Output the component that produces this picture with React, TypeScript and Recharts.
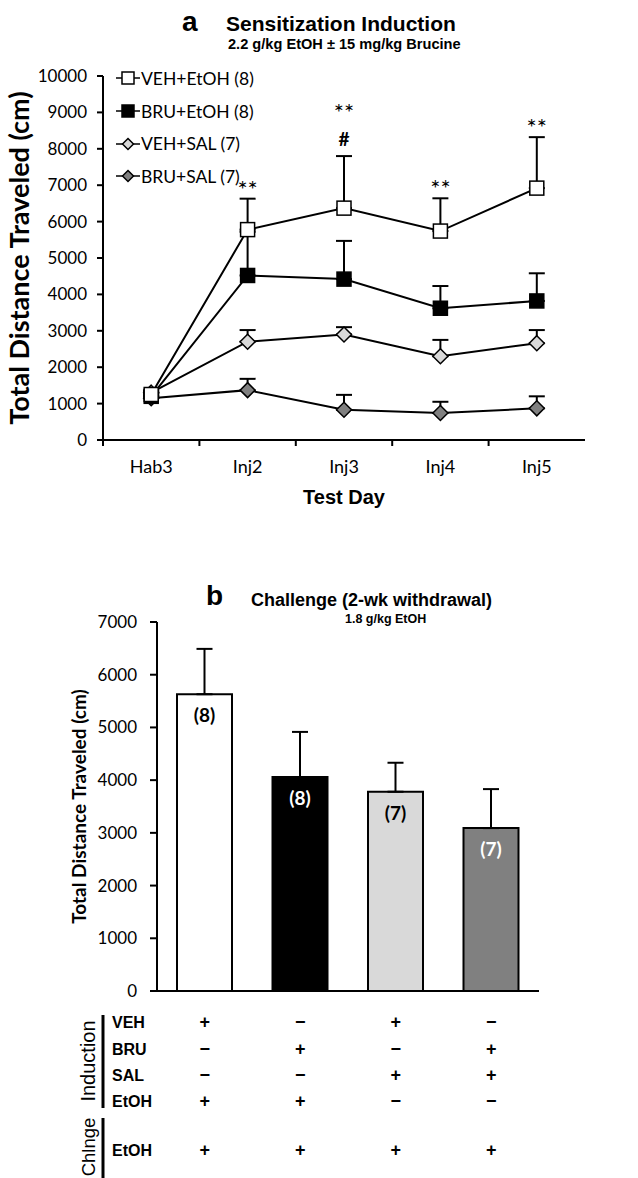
import { LineChart, Line, XAxis, YAxis, ErrorBar, ReferenceDot, Legend, BarChart, Bar, Cell, LabelList } from "recharts"

const days = ["Hab3", "Inj2", "Inj3", "Inj4", "Inj5"]
const vehEtoh = [1250, 5780, 6370, 5740, 6920]
const vehEtohErr = [80, 850, 1430, 900, 1400]
const bruEtoh = [1200, 4520, 4420, 3620, 3820]
const bruEtohErr = [80, 1200, 1050, 610, 760]
const vehSal = [1300, 2700, 2900, 2300, 2660]
const vehSalErr = [60, 320, 200, 450, 360]
const bruSal = [1150, 1370, 830, 740, 870]
const bruSalErr = [60, 310, 410, 310, 330]
const stars = ["", "**", "**", "**", "**"]
const hashes = ["", "", "#", "", ""]
const ticksA = [0, 1000, 2000, 3000, 4000, 5000, 6000, 7000, 8000, 9000, 10000]

const groups = ["VEH+EtOH", "BRU+EtOH", "VEH+SAL", "BRU+SAL"]
const challengeMean = [5630, 4060, 3780, 3090]
const challengeErr = [860, 855, 550, 740]
const challengeN = ["(8)", "(8)", "(7)", "(7)"]
const ticksB = [0, 1000, 2000, 3000, 4000, 5000, 6000, 7000]

const inductionRows = ["VEH", "BRU", "SAL", "EtOH"]
const inductionSigns = [
  ["+", "−", "+", "−"],
  ["−", "+", "−", "+"],
  ["−", "−", "+", "+"],
  ["+", "+", "−", "−"],
]
const challengeRow = ["+", "+", "+", "+"]

const ARIAL = "'Liberation Sans', Arial, sans-serif"
const CALIBRI = "Lato, 'Open Sans', sans-serif"

const sensData = days.map((day, i) => ({
  day,
  vehEtoh: vehEtoh[i],
  vehEtohErr: [0, vehEtohErr[i]],
  bruEtoh: bruEtoh[i],
  bruEtohErr: [0, bruEtohErr[i]],
  vehSal: vehSal[i],
  vehSalErr: [0, vehSalErr[i]],
  bruSal: bruSal[i],
  bruSalErr: [0, bruSalErr[i]],
}))

const challengeData = groups.map((g, i) => ({
  group: g,
  mean: challengeMean[i],
  err: [0, challengeErr[i]],
  n: challengeN[i],
}))

// series styling, legend order
const series = [
  { key: "vehEtoh", name: "VEH+EtOH (8)", shape: "square", fill: "#ffffff" },
  { key: "bruEtoh", name: "BRU+EtOH (8)", shape: "square", fill: "#000000" },
  { key: "vehSal", name: "VEH+SAL (7)", shape: "diamond", fill: "#d9d9d9" },
  { key: "bruSal", name: "BRU+SAL (7)", shape: "diamond", fill: "#808080" },
]
const barFills = ["#ffffff", "#000000", "#d9d9d9", "#808080"]
const barLabelFills = ["#000", "#fff", "#000", "#fff"]

function Marker({ shape, fill, cx, cy, size }: any) {
  const h = size / 2
  if (shape === "square") {
    return <rect x={cx - h} y={cy - h} width={size} height={size} fill={fill} stroke="#000" strokeWidth={1.5} />
  }
  return (
    <polygon
      points={`${cx},${cy - h} ${cx + h},${cy} ${cx},${cy + h} ${cx - h},${cy}`}
      fill={fill}
      stroke="#000"
      strokeWidth={1.5}
    />
  )
}

const makeDot = (shape: string, fill: string) => (props: any) => {
  const { cx, cy, index } = props
  if (cx == null || cy == null) return <g key={`d-${index}`} />
  return (
    <g key={`d-${shape}-${fill}-${index}`}>
      <Marker shape={shape} fill={fill} cx={cx} cy={cy} size={shape === "square" ? 14 : 15} />
    </g>
  )
}

// chart a layout
const A_LEFT = 103
const A_RIGHT = 585
const A_BAND = (A_RIGHT - A_LEFT) / days.length

const DayTick = (props: any) => {
  const { x, y, payload } = props
  const axisY = y - 10
  const bx = x - A_BAND / 2
  return (
    <g>
      <line x1={bx} y1={axisY} x2={bx} y2={axisY + 6} stroke="#000" strokeWidth={2} />
      <text x={x} y={axisY + 33} textAnchor="middle" fontFamily={CALIBRI} fontSize={18} fill="#000">
        {payload.value}
      </text>
    </g>
  )
}

const renderLegend = () => (
  <div style={{ fontFamily: CALIBRI, fontSize: 17.5, color: "#000" }}>
    {series.map((s) => (
      <div key={s.key} style={{ display: "flex", alignItems: "center", height: 32.7 }}>
        <svg width={24} height={16} style={{ marginRight: 1 }}>
          <line x1={0} y1={8} x2={24} y2={8} stroke="#000" strokeWidth={1.5} />
          <Marker shape={s.shape} fill={s.fill} cx={12} cy={8} size={s.shape === "square" ? 12 : 11} />
        </svg>
        <span>{s.name}</span>
      </div>
    ))}
  </div>
)

const sigLabel = (text: string, lift: number, size: number, weight: number) => (p: any) => {
  const vb = p.viewBox || {}
  const x = (vb.x ?? p.x) + (vb.width ?? 0) / 2
  const y = vb.y ?? p.y
  return (
    <text x={x} y={y - lift} textAnchor="middle" fontFamily={CALIBRI} fontSize={size} fontWeight={weight} fill="#000">
      {text}
    </text>
  )
}

const title = (text: string, style: any) => (
  <div style={{ position: "absolute", whiteSpace: "nowrap", fontFamily: ARIAL, fontWeight: 700, color: "#000", ...style }}>
    {text}
  </div>
)

const BarNLabel = (props: any) => {
  const { x, y, width, value, index } = props
  const vx = props.viewBox ? props.viewBox.x : x
  const vy = props.viewBox ? props.viewBox.y : y
  const vw = props.viewBox ? props.viewBox.width : width
  const i = typeof index === "number" ? index : challengeN.indexOf(value)
  return (
    <text x={vx + vw / 2} y={vy + 28} textAnchor="middle" fontFamily={CALIBRI} fontWeight={700} fontSize={19} fill={barLabelFills[i] || "#000"}>
      {value}
    </text>
  )
}

// chart b layout
const B_LEFT = 157
const B_RIGHT = 539
const B_BAND = (B_RIGHT - B_LEFT) / groups.length
const colX = groups.map((_, i) => B_LEFT + B_BAND * (i + 0.5))
const rowY = [1028, 1055, 1081, 1107]
const chRowY = 1156

export default function App() {
  return (
    <div style={{ position: "absolute", left: 0, top: 0, width: 638, height: 1178, background: "#fff", overflow: "hidden" }}>
      {title("a", { left: 182, top: 6, fontSize: 28 })}
      {title("Sensitization Induction", { left: 226, top: 12, fontSize: 21 })}
      {title("2.2 g/kg EtOH ± 15 mg/kg Brucine", { left: 228, top: 36, fontSize: 14.6 })}

      <div style={{ position: "absolute", left: 0, top: 0 }}>
        <LineChart width={638} height={520} data={sensData} margin={{ top: 76, right: 638 - A_RIGHT, bottom: 50, left: 0 }}>
          <XAxis
            dataKey="day"
            scale="band"
            height={30}
            tickLine={false}
            tickSize={6}
            tickMargin={4}
            axisLine={{ stroke: "#000", strokeWidth: 2 }}
            tick={<DayTick />}
            interval={0}
            label={({ viewBox }: any) => (
              <text x={viewBox.x + viewBox.width / 2} y={viewBox.y + 64} textAnchor="middle" fontFamily={ARIAL} fontWeight={700} fontSize={20} fill="#000">
                Test Day
              </text>
            )}
          />
          <YAxis
            width={A_LEFT}
            domain={[0, 10000]}
            ticks={ticksA}
            interval={0}
            tickSize={6}
            tickMargin={10}
            axisLine={{ stroke: "#000", strokeWidth: 2 }}
            tickLine={{ stroke: "#000", strokeWidth: 2 }}
            tick={{ fill: "#000", fontFamily: CALIBRI, fontSize: 17 }}
            label={({ viewBox }: any) => {
              const cx = viewBox.x + 18
              const cy = viewBox.y + viewBox.height / 2
              return (
                <text x={cx} y={cy} transform={`rotate(-90 ${cx} ${cy})`} textAnchor="middle" dominantBaseline="central" fontFamily={CALIBRI} fontWeight={700} fontSize={27} fill="#000">
                  Total Distance Traveled (cm)
                </text>
              )
            }}
          />
          <Legend layout="vertical" align="center" verticalAlign="middle" content={renderLegend} wrapperStyle={{ top: 62, left: 116, width: 180, height: 140 }} />
          {[...series].reverse().map((s) => (
            <Line
              key={s.key}
              dataKey={s.key}
              name={s.name}
              stroke="#000"
              strokeWidth={2}
              isAnimationActive={false}
              dot={makeDot(s.shape, s.fill)}
              activeDot={false}
            >
              <ErrorBar dataKey={`${s.key}Err`} width={8} stroke="#000" strokeWidth={2} direction="y" />
            </Line>
          ))}
          {days.map((d, i) =>
            stars[i] ? (
              <ReferenceDot
                key={`s-${d}`}
                x={d}
                y={vehEtoh[i] + vehEtohErr[i]}
                r={1}
                fill="none"
                stroke="none"
                label={sigLabel(stars[i], hashes[i] ? 34 : 0, 24, 400)}
              />
            ) : null
          )}
          {days.map((d, i) =>
            hashes[i] ? (
              <ReferenceDot
                key={`h-${d}`}
                x={d}
                y={vehEtoh[i] + vehEtohErr[i]}
                r={1}
                fill="none"
                stroke="none"
                label={sigLabel(hashes[i], 9, 19, 700)}
              />
            ) : null
          )}
        </LineChart>
      </div>

      {title("b", { left: 206, top: 580, fontSize: 28 })}
      {title("Challenge (2-wk withdrawal)", { left: 251, top: 590, fontSize: 18 })}
      {title("1.8 g/kg EtOH", { left: 345, top: 612, fontSize: 12.5 })}

      <div style={{ position: "absolute", left: 0, top: 560 }}>
        <BarChart width={638} height={450} data={challengeData} margin={{ top: 62, right: 638 - B_RIGHT, bottom: 14, left: 0 }} barSize={55}>
          <XAxis dataKey="group" height={5} tick={false} tickLine={false} axisLine={{ stroke: "#000", strokeWidth: 2 }} />
          <YAxis
            width={B_LEFT}
            domain={[0, 7000]}
            ticks={ticksB}
            interval={0}
            tickSize={7}
            tickMargin={13}
            axisLine={{ stroke: "#000", strokeWidth: 2 }}
            tickLine={{ stroke: "#000", strokeWidth: 2 }}
            tick={{ fill: "#000", fontFamily: CALIBRI, fontSize: 17 }}
            label={({ viewBox }: any) => {
              const cx = viewBox.x + 78
              const cy = viewBox.y + viewBox.height / 2
              return (
                <text x={cx} y={cy} transform={`rotate(-90 ${cx} ${cy})`} textAnchor="middle" dominantBaseline="central" fontFamily={CALIBRI} fontWeight={700} fontSize={19} fill="#000">
                  Total Distance Traveled (cm)
                </text>
              )
            }}
          />
          <Bar dataKey="mean" stroke="#000" strokeWidth={2} isAnimationActive={false}>
            {challengeData.map((d, i) => (
              <Cell key={d.group} fill={barFills[i]} />
            ))}
            <ErrorBar dataKey="err" width={8} stroke="#000" strokeWidth={2} direction="y" />
            <LabelList dataKey="n" content={<BarNLabel />} />
          </Bar>
        </BarChart>
      </div>

      <svg style={{ position: "absolute", left: 0, top: 0 }} width={638} height={1178}>
        <line x1={103} y1={1015} x2={103} y2={1108} stroke="#000" strokeWidth={3} />
        <line x1={103} y1={1118} x2={103} y2={1178} stroke="#000" strokeWidth={3} />
        <text x={88} y={1061} transform="rotate(-90 88 1061)" textAnchor="middle" dominantBaseline="central" fontFamily={ARIAL} fontSize={20} fill="#000">
          Induction
        </text>
        <text x={88} y={1147} transform="rotate(-90 88 1147)" textAnchor="middle" dominantBaseline="central" fontFamily={ARIAL} fontSize={18.5} fill="#000">
          Chlnge
        </text>
        {inductionRows.map((r, ri) => (
          <g key={r + ri}>
            <text x={112} y={rowY[ri]} fontFamily={ARIAL} fontWeight={700} fontSize={16} fill="#000">
              {r}
            </text>
            {inductionSigns[ri].map((s, ci) => (
              <text key={ci} x={colX[ci]} y={rowY[ri]} textAnchor="middle" fontFamily={ARIAL} fontWeight={700} fontSize={18} fill="#000">
                {s}
              </text>
            ))}
          </g>
        ))}
        <text x={112} y={chRowY} fontFamily={ARIAL} fontWeight={700} fontSize={16} fill="#000">
          EtOH
        </text>
        {challengeRow.map((s, ci) => (
          <text key={ci} x={colX[ci]} y={chRowY} textAnchor="middle" fontFamily={ARIAL} fontWeight={700} fontSize={18} fill="#000">
            {s}
          </text>
        ))}
      </svg>
    </div>
  )
}
